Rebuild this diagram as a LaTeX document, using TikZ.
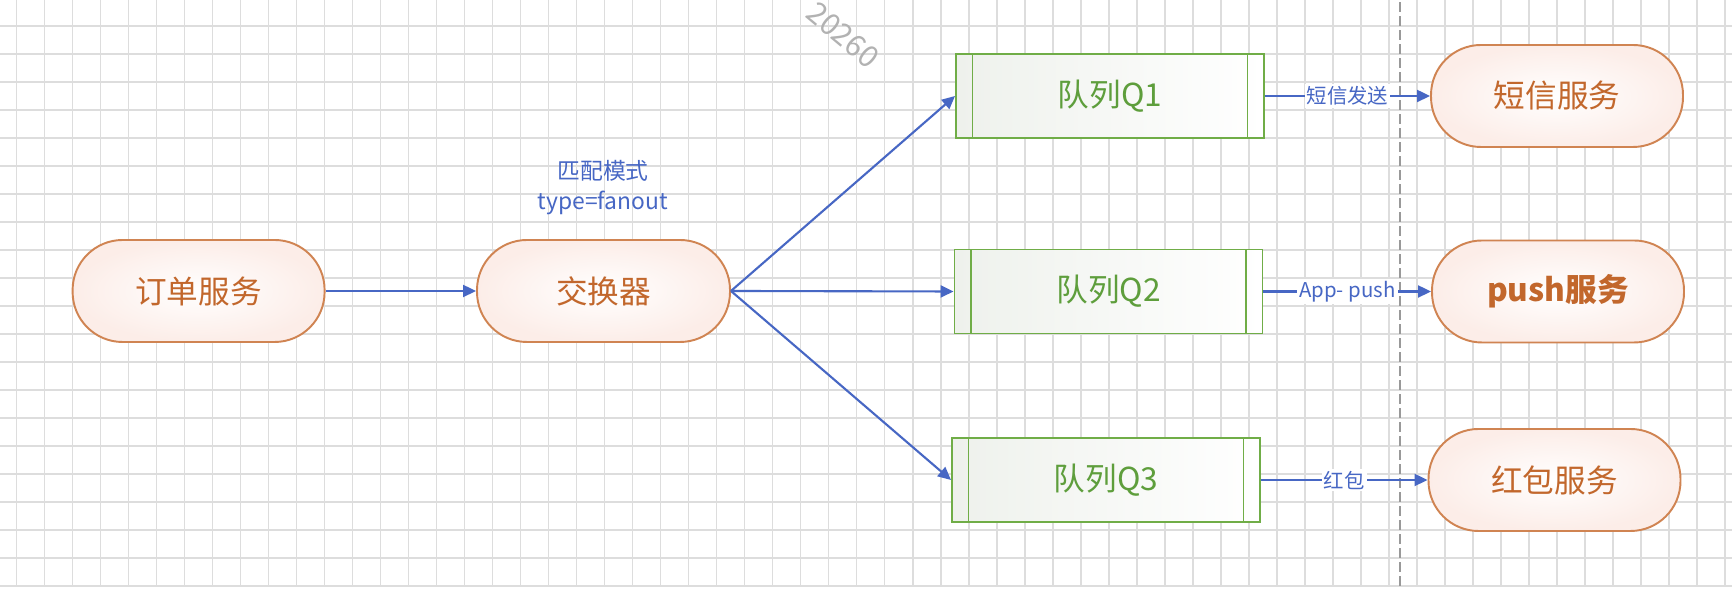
\documentclass[tikz,border=0pt]{standalone}
\usepackage{fontspec}
\setmainfont{Noto Sans CJK SC}
\usetikzlibrary{arrows.meta}
\definecolor{pillline}{HTML}{D08452}
\definecolor{pilltext}{HTML}{C2672C}
\definecolor{pillpink}{HTML}{FCEDE8}
\definecolor{qline}{HTML}{70AD47}
\definecolor{qtext}{HTML}{5E9E3C}
\definecolor{qgrey}{HTML}{EEF1EC}
\definecolor{linkblue}{HTML}{4767C4}
\definecolor{gridgrey}{HTML}{DDDDDD}

\begin{document}
\begin{tikzpicture}[
	gridline/.style={gridgrey,line width=0.45pt},
	pill/.style={draw=pillline,line width=0.55pt,rounded corners=0.5cm,
		minimum width=2.52cm,minimum height=1.02cm,inner sep=0pt,
		inner color=white,outer color=pillpink,text=pilltext,
		font=\fontsize{9}{11}\selectfont},
	queue/.style={draw=qline,line width=0.55pt,
		minimum width=3.08cm,minimum height=0.84cm,inner sep=0pt,
		left color=qgrey,right color=white,text=qtext,
		font=\fontsize{9}{11}\selectfont,
		path picture={
			\draw[qline,line width=0.55pt] ([xshift=0.165cm]path picture bounding box.north west) -- ([xshift=0.165cm]path picture bounding box.south west);
			\draw[qline,line width=0.55pt] ([xshift=-0.165cm]path picture bounding box.north east) -- ([xshift=-0.165cm]path picture bounding box.south east);
		}},
	link/.style={linkblue,line width=0.6pt,-{Triangle[length=0.13cm,width=0.12cm]}},
	tag/.style={fill=white,inner sep=0.6pt,text=linkblue,font=\fontsize{5.8}{7}\selectfont},
	note/.style={align=center,text=linkblue,font=\fontsize{6.5}{8.5}\selectfont},
	watermark/.style={text=black!30,rotate=-40,inner sep=0pt,font=\fontsize{8.5}{10}\selectfont}
]
	\useasboundingbox (0,0) rectangle (17.32,6.04);
	\fill[white] (0,0) rectangle (17.32,6.04);

	% grid paper
	\foreach \i in {0,...,61}
		\draw[gridline] (0.167+0.28*\i,0.18) -- (0.167+0.28*\i,6.04);
	\foreach \j in {1,...,21}
		\draw[gridline] (0,6.06-0.28*\j) -- (17.32,6.06-0.28*\j);
	\draw[black!40,line width=0.45pt,dash pattern=on 0.1cm off 0.04cm] (14.00,0.18) -- (14.00,6.04);
	\node[watermark] (mark) at (8.43,5.69) {20260};

	% producer and exchange
	\node[pill] (order) at (1.986,3.13) {订单服务};
	\node[pill,minimum width=2.53cm] (ex) at (6.035,3.13) {交换器};
	\node[note] (mode) at (6.03,4.16) {匹配模式\\type=fanout};

	% queues
	\node[queue] (q1) at (11.10,5.08) {队列Q1};
	\node[queue] (q2) at (11.085,3.125) {队列Q2};
	\node[queue] (q3) at (11.06,1.24) {队列Q3};

	% consumers
	\node[pill] (sms) at (15.57,5.08) {短信服务};
	\node[pill,font=\fontsize{9}{11}\selectfont\bfseries] (push) at (15.58,3.125) {push服务};
	\node[pill] (red) at (15.545,1.24) {红包服务};

	\draw[link] (order) -- (ex);
	\draw[link] (ex.east) -- (q1.west);
	\draw[link] (ex.east) -- (q2.west);
	\draw[link] (ex.east) -- (q3.west);
	\draw[link] (q1) -- node[tag] {短信发送} (sms);
	\draw[link] (q2) -- node[tag] {App- push} (push);
	\draw[link] (q3) -- node[tag] {红包} (red);
\end{tikzpicture}
\end{document}
